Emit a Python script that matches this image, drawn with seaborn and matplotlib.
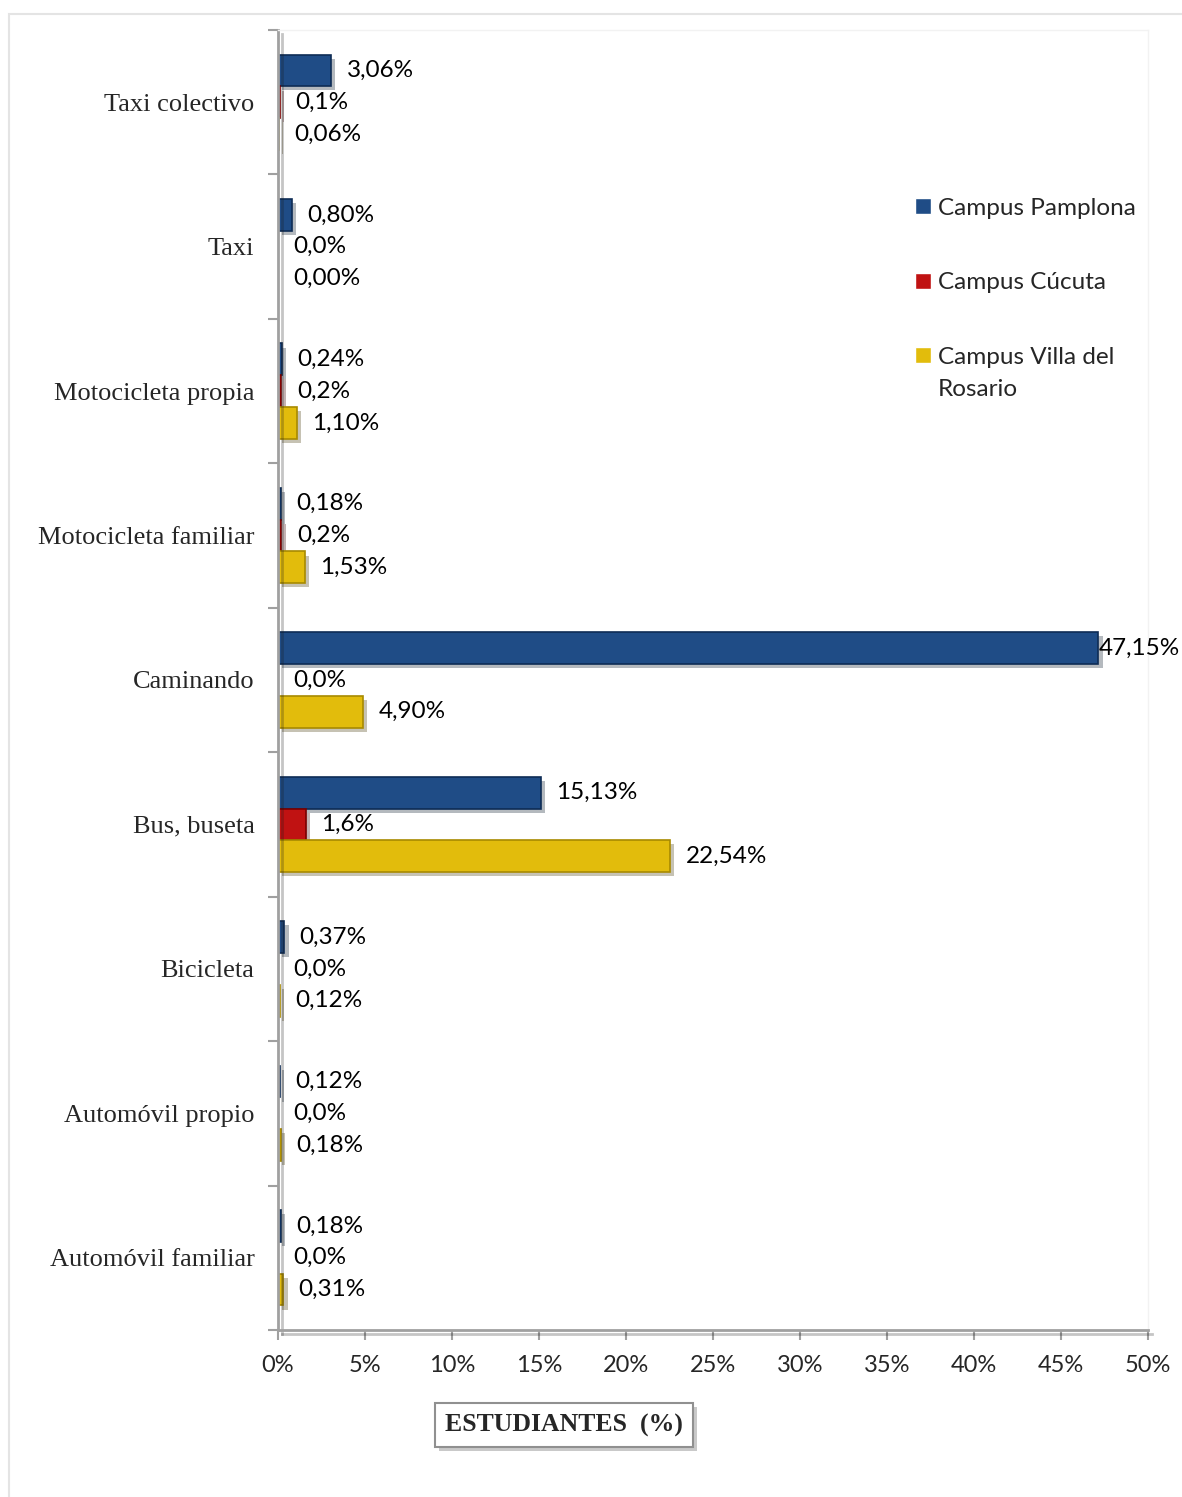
import pandas as pd
import matplotlib
matplotlib.use('Agg')
import matplotlib.pyplot as plt
import matplotlib.patheffects as pe
from matplotlib.patches import Rectangle
import seaborn as sns

# Data
modos = ['Taxi colectivo', 'Taxi', 'Motocicleta propia', 'Motocicleta familiar',
         'Caminando', 'Bus, buseta', 'Bicicleta', 'Automóvil propio', 'Automóvil familiar']
campus = ['Campus Pamplona', 'Campus Cúcuta', 'Campus Villa del Rosario']
pamplona = [3.06, 0.80, 0.24, 0.18, 47.15, 15.13, 0.37, 0.12, 0.18]
cucuta = [0.1, 0.0, 0.2, 0.2, 0.0, 1.6, 0.0, 0.0, 0.0]
villa = [0.06, 0.00, 1.10, 1.53, 4.90, 22.54, 0.12, 0.18, 0.31]
decimales = [2, 1, 2]
colores = ['#1F4C86', '#C01212', '#E2BC0C']
bordes = ['#0E2C55', '#7A0000', '#A88A00']
x_ticks = [0, 5, 10, 15, 20, 25, 30, 35, 40, 45, 50]

df = pd.DataFrame({
    'modo': modos * 3,
    'campus': [c for c in campus for _ in modos],
    'valor': pamplona + cucuta + villa,
})

sns.set_theme(style='white')
plt.rcParams['font.family'] = ['Lato', 'DejaVu Sans']

fig = plt.figure(figsize=(11.82, 14.97), dpi=100)
ax = fig.add_axes([278 / 1182, 1 - 1330 / 1497, 870 / 1182, 1300 / 1497])

sns.barplot(data=df, y='modo', x='valor', hue='campus', order=modos,
            hue_order=campus, palette=colores, saturation=1, width=0.66,
            orient='h', ax=ax, legend=True)

# colour edges, shadows and labels per series
for i, cont in enumerate(ax.containers):
    for bar, v in zip(cont, [pamplona, cucuta, villa][i]):
        bar.set_edgecolor(bordes[i])
        bar.set_linewidth(1.2)
        bar.set_path_effects([pe.SimplePatchShadow(offset=(3, -3), alpha=0.3),
                              pe.Normal()])
        txt = f'{v:.{decimales[i]}f}%'.replace('.', ',')
        pad = 0.5 if v > 40 else 11
        ax.annotate(txt, (bar.get_width(), bar.get_y() + bar.get_height() / 2),
                    xytext=(pad, 0), textcoords='offset points',
                    ha='left', va='center', fontsize=17.5, color='black')

ax.set_xlim(0, 50)
ax.set_xticks(x_ticks)
ax.set_xticklabels([f'{t}%' for t in x_ticks], fontsize=17)
ax.set_ylim(len(modos) - 0.5, -0.5)
ax.set_yticks(range(len(modos)))
ax.set_yticklabels(modos, fontsize=19, family=['Liberation Serif'])
ax.set_yticks([i - 0.5 for i in range(len(modos) + 1)], minor=True)
ax.tick_params(axis='y', which='major', length=0, pad=17)
ax.tick_params(axis='y', which='minor', left=True, length=7, width=1.5,
               color='#A0A0A0', direction='out')
ax.tick_params(axis='x', bottom=True, length=7, width=1.5, color='#A0A0A0',
               direction='out', pad=11)
ax.set_xlabel('')
ax.set_ylabel('')

for s in ['left', 'bottom']:
    ax.spines[s].set_color('#A0A0A0')
    ax.spines[s].set_linewidth(2)
    ax.spines[s].set_path_effects([pe.SimpleLineShadow(offset=(3, -3), alpha=0.25),
                                   pe.Normal()])
for s in ['top', 'right']:
    ax.spines[s].set_color('#F2F2F2')
    ax.spines[s].set_linewidth(1)

# legend: last label wraps, with its second line under the first
handles, labels = ax.get_legend_handles_labels()
labels = [l.replace(' Rosario', '') for l in labels]
leg = ax.legend(handles, labels, loc='upper left',
                bbox_to_anchor=(893 / 1182, 1 - 176 / 1497),
                bbox_transform=fig.transFigure, frameon=False, fontsize=17.5,
                handlelength=0.65, handleheight=0.65, handletextpad=0.3,
                labelspacing=2.2)
fig.canvas.draw()
last = leg.get_texts()[-1]
bb = last.get_window_extent().transformed(fig.transFigure.inverted())
fig.text(bb.x0, bb.y0 - 32 / 1497, 'Rosario', fontsize=17.5, ha='left',
         va='bottom')

fig.text(564 / 1182, 1 - 1425 / 1497, 'ESTUDIANTES  (%)', ha='center', va='center',
         fontsize=18.5, fontweight='bold', family=['Liberation Serif'],
         bbox=dict(boxstyle='square,pad=0.4', fc='white', ec='#909090', lw=1.5,
                   path_effects=[pe.SimplePatchShadow(offset=(3, -3), alpha=0.3),
                                 pe.Normal()]))

# faint outer frame of the chart area
fig.patches.append(Rectangle((9 / 1182, -0.1), 1.2, 1 - 14 / 1497 + 0.1,
                             transform=fig.transFigure, fill=False,
                             ec='#E4E4E4', lw=1.5))

fig.savefig('out.png', dpi=100)
